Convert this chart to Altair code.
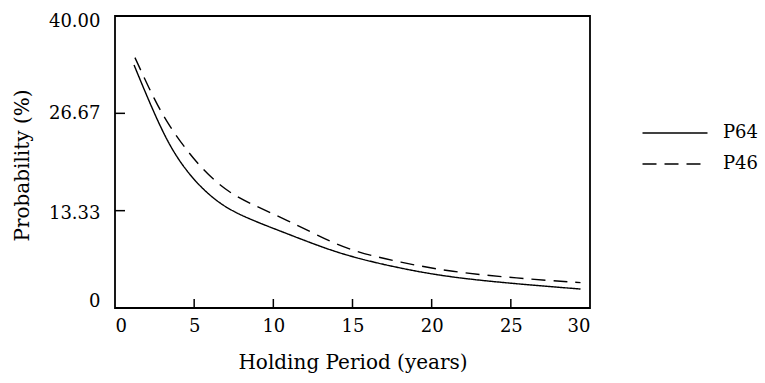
import altair as alt
import pandas as pd

# Values
p64_years = [1.2, 2.42, 3.47, 4.53, 5.58, 6.63, 7.69, 9.16, 10.85, 12.74, 14.85, 18.0, 21.16, 25.4, 29.4]
p64_prob = [33.3, 26.9, 22.1, 18.7, 16.2, 14.3, 12.97, 11.6, 10.2, 8.6, 7.03, 5.43, 4.2, 3.29, 2.6]
p46_years = [1.26, 2.53, 3.47, 4.53, 5.58, 6.63, 7.69, 9.16, 10.85, 12.74, 14.85, 18.0, 21.16, 25.4, 29.4]
p46_prob = [34.3, 28.3, 24.8, 21.6, 18.9, 16.8, 15.2, 13.7, 12.05, 10.0, 7.85, 6.26, 4.97, 4.07, 3.47]
series_names = ["P64", "P46"]
x_ticks = [0, 5, 10, 15, 20, 25, 30]
y_ticks = [0, 40 / 3, 80 / 3, 40]

rows = []
for x, y in zip(p64_years, p64_prob):
    rows.append({"year": x, "prob": y, "series": "P64"})
for x, y in zip(p46_years, p46_prob):
    rows.append({"year": x, "prob": y, "series": "P46"})
df = pd.DataFrame(rows)

FONT = "DejaVu Serif"
W, H = 475, 292

xscale = alt.Scale(domain=[0, 30], nice=False, zero=False)
yscale = alt.Scale(domain=[0, 40], nice=False, zero=False)

lines = alt.Chart(df).mark_line(color="black", strokeWidth=1.4, interpolate="basis").encode(
    x=alt.X("year:Q", scale=xscale,
            axis=alt.Axis(values=x_ticks, title="Holding Period (years)", tickSize=0,
                          labelPadding=9, domain=False, grid=False,
                          titleY=60, titleBaseline="alphabetic")),
    y=alt.Y("prob:Q", scale=yscale,
            axis=alt.Axis(values=y_ticks, title="Probability (%)", tickSize=0,
                          labelPadding=15, domain=False, grid=False,
                          labelExpr="datum.value == 0 ? '0' : format(datum.value, '.2f')",
                          labelOffset={"expr": "datum.value == 0 ? -7 : datum.value > 39 ? 5 : datum.value > 20 ? 0 : 3"},
                          titleX=-93, titleY=H / 2 + 3, titleAngle=-90,
                          titleAlign="center", titleBaseline="middle")),
    strokeDash=alt.StrokeDash("series:N",
                              scale=alt.Scale(domain=series_names, range=[[1, 0], [14, 8]]),
                              legend=alt.Legend(title=None, orient="none", legendX=543, legendY=100,
                                                symbolType="M-2,0H2", symbolSize=1056,
                                                symbolStrokeColor="black", symbolStrokeWidth=1.4,
                                                labelFont=FONT, labelFontSize=18, labelColor="black",
                                                labelOffset=31, rowPadding=5)),
)

xt = pd.DataFrame({"t": x_ticks[1:-1]})
xtick_rules = alt.Chart(xt).mark_rule(color="black", strokeWidth=1.5).encode(
    x=alt.X("t:Q", scale=xscale), y=alt.value(H), y2=alt.value(H - 9))

yt = pd.DataFrame({"t": y_ticks[1:-1]})
ytick_rules = alt.Chart(yt).mark_rule(color="black", strokeWidth=1.5).encode(
    y=alt.Y("t:Q", scale=yscale), x=alt.value(0), x2=alt.value(10))

chart = alt.layer(lines, xtick_rules, ytick_rules).properties(
    width=W, height=H,
    autosize=alt.AutoSizeParams(type="none"),
    padding={"left": 115, "top": 16, "right": 175, "bottom": 75},
    background="white",
).configure_view(stroke="black", strokeWidth=1.8).configure_axis(
    labelFont=FONT, labelFontSize=18, labelColor="black",
    titleFont=FONT, titleFontSize=20, titleColor="black", titleFontWeight="normal",
)

chart.save("out.html", embed_options={"renderer": "svg", "actions": False})
